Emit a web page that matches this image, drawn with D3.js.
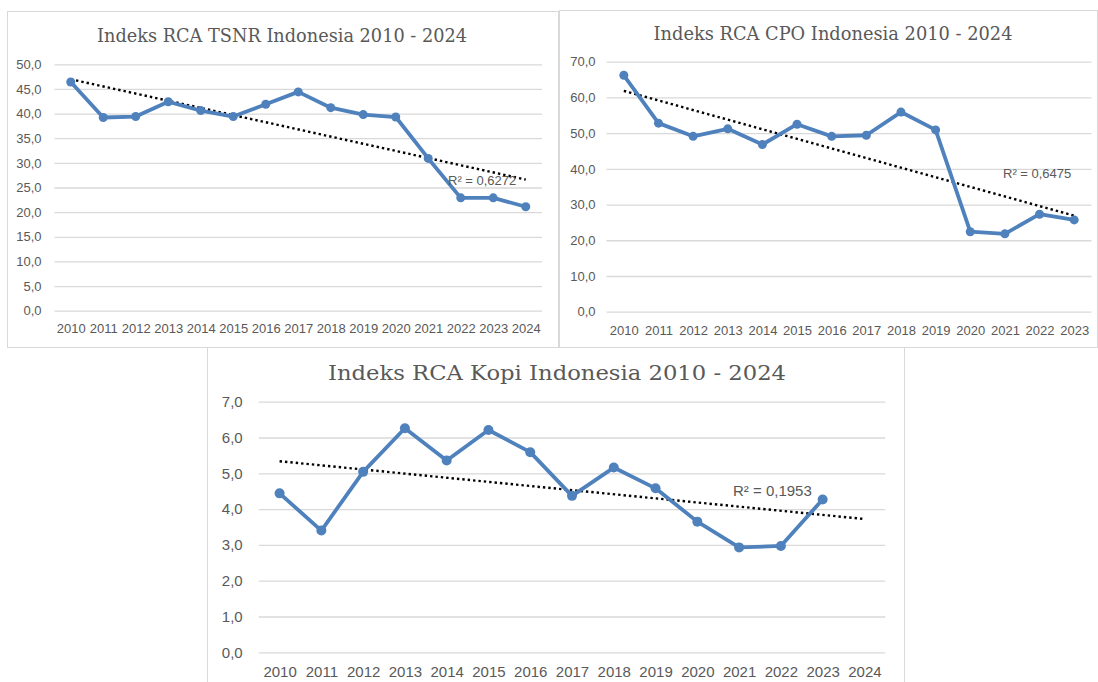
<!DOCTYPE html>
<html>
<head>
<meta charset="utf-8">
<script src="https://cdn.jsdelivr.net/npm/d3@7"></script>
<style>
  body { margin: 0; background: #fff; }
  text { font-family: "Liberation Sans", Arial, sans-serif; fill: #595959; }
  .title { font-family: "DejaVu Serif", serif; }
</style>
</head>
<body>
<div id="chart"></div>
<script>
// data
let years = ['2010', '2011', '2012', '2013', '2014', '2015', '2016', '2017',
  '2018', '2019', '2020', '2021', '2022', '2023', '2024'];
let yearsCpo = years.slice(0, 14);

let tsnrValues = [46.4, 39.2, 39.4, 42.4, 40.6, 39.4, 41.9, 44.4, 41.2, 39.8, 39.3, 30.9, 22.9, 22.9, 21.1];
let cpoValues = [66.2, 52.8, 49.1, 51.2, 46.8, 52.5, 49.1, 49.4, 55.9, 50.9, 22.4, 21.8, 27.3, 25.7];
// no value for 2024
let kopiValues = [4.44, 3.40, 5.04, 6.26, 5.36, 6.21, 5.59, 4.37, 5.16, 4.58, 3.65, 2.93, 2.97, 4.27];

let tsnrTicks = [0, 5, 10, 15, 20, 25, 30, 35, 40, 45, 50];
let cpoTicks = [0, 10, 20, 30, 40, 50, 60, 70];
let kopiTicks = [0, 1, 2, 3, 4, 5, 6, 7];

let tsnrTitle = 'Indeks RCA TSNR Indonesia 2010 - 2024';
let cpoTitle = 'Indeks RCA CPO Indonesia 2010 - 2024';
let kopiTitle = 'Indeks RCA Kopi Indonesia 2010 - 2024';

let tsnrR2 = 'R\u00b2 = 0,6272';
let cpoR2 = 'R\u00b2 = 0,6475';
let kopiR2 = 'R\u00b2 = 0,1953';

let svgWidth = 1098;
let svgHeight = 682;

let svg = d3.select('#chart')
  .append('svg')
  .attr('width', svgWidth)
  .attr('height', svgHeight);

let lineColor = '#4f81bd';
let gridColor = '#d9d9d9';
let fmt = d => d3.format('.1f')(d).replace('.', ',');

// least squares line over category index
function trend(values) {
  let mx = d3.mean(values, (d, i) => i);
  let my = d3.mean(values);
  let sxy = d3.sum(values, (d, i) => (i - mx) * (d - my));
  let sxx = d3.sum(values, (d, i) => (i - mx) * (i - mx));
  let slope = sxy / sxx;
  return i => my + slope * (i - mx);
}

function drawChart(cfg) {
  let g = svg.append('g');

  // chart box
  g.append('rect')
    .attr('x', cfg.box[0])
    .attr('y', cfg.box[1])
    .attr('width', cfg.box[2])
    .attr('height', cfg.box[3])
    .attr('fill', '#fff')
    .attr('stroke', gridColor)
    .attr('stroke-width', 1);

  let x = d3.scalePoint()
    .domain(cfg.categories)
    .range([cfg.left, cfg.right])
    .padding(0.5);

  let y = d3.scaleLinear()
    .domain([0, d3.max(cfg.ticks)])
    .range([cfg.bottom, cfg.top]);

  // y gridlines + labels
  let yAxis = g.append('g')
    .attr('transform', `translate(${cfg.left}, 0)`)
    .call(d3.axisLeft(y).tickValues(cfg.ticks).tickFormat(fmt)
      .tickSize(-(cfg.right - cfg.left)).tickPadding(cfg.yPad));
  yAxis.select('.domain').remove();
  yAxis.selectAll('line').attr('stroke', gridColor).attr('stroke-width', 1.3);
  yAxis.selectAll('text')
    .attr('fill', '#666')
    .style('font-size', cfg.tickSize + 'px');

  // x labels
  let xAxis = g.append('g')
    .attr('transform', `translate(0, ${cfg.bottom})`)
    .call(d3.axisBottom(x).tickSize(0).tickPadding(cfg.xPad));
  xAxis.select('.domain').remove();
  xAxis.selectAll('text')
    .attr('fill', '#666')
    .style('font-size', cfg.tickSize + 'px');

  // title
  g.append('text')
    .classed('title', true)
    .attr('x', cfg.titleX)
    .attr('y', cfg.titleY)
    .attr('text-anchor', 'middle')
    .attr('textLength', cfg.titleLen)
    .attr('lengthAdjust', 'spacingAndGlyphs')
    .style('font-size', cfg.titleSize + 'px')
    .text(cfg.title);

  // trend line
  let f = trend(cfg.values);
  let last = cfg.categories.length - 1;
  g.append('line')
    .attr('x1', x(cfg.categories[0]))
    .attr('y1', y(f(0)))
    .attr('x2', x(cfg.categories[last]))
    .attr('y2', y(f(last)))
    .attr('stroke', '#000')
    .attr('stroke-width', 2.4)
    .attr('stroke-dasharray', '2.4,3');

  // series line
  let pts = cfg.values.map((v, i) => ({ cat: cfg.categories[i], v: v }));
  let line = d3.line()
    .x(d => x(d.cat))
    .y(d => y(d.v));

  g.append('path')
    .datum(pts)
    .attr('d', line)
    .attr('fill', 'none')
    .attr('stroke', lineColor)
    .attr('stroke-width', 3.8)
    .attr('stroke-linejoin', 'round');

  g.selectAll('circle')
    .data(pts)
    .enter()
    .append('circle')
    .attr('cx', d => x(d.cat))
    .attr('cy', d => y(d.v))
    .attr('r', cfg.r)
    .attr('fill', lineColor);

  // R squared label
  g.append('text')
    .attr('x', cfg.r2X)
    .attr('y', cfg.r2Y)
    .attr('fill', '#666')
    .style('font-size', cfg.r2Size + 'px')
    .text(cfg.r2);
}

drawChart({
  box: [7.5, 11.5, 551, 336],
  categories: years, values: tsnrValues, ticks: tsnrTicks,
  left: 54.5, right: 542, top: 64.3, bottom: 310.7,
  yPad: 13, xPad: 13, tickSize: 13,
  title: tsnrTitle, titleX: 282, titleY: 41.5, titleSize: 19, titleLen: 370,
  r: 4.5, r2: tsnrR2, r2X: 448, r2Y: 185, r2Size: 13
});

drawChart({
  box: [559.5, 10.5, 538, 337],
  categories: yearsCpo, values: cpoValues, ticks: cpoTicks,
  left: 606.5, right: 1091.5, top: 61.7, bottom: 311.7,
  yPad: 11, xPad: 14, tickSize: 13,
  title: cpoTitle, titleX: 833, titleY: 39.5, titleSize: 19, titleLen: 359,
  r: 4.5, r2: cpoR2, r2X: 1003, r2Y: 178, r2Size: 13
});

drawChart({
  box: [207.5, 347.5, 697, 340],
  categories: years, values: kopiValues, ticks: kopiTicks,
  left: 258.7, right: 885.3, top: 401.7, bottom: 652.3,
  yPad: 16, xPad: 14, tickSize: 15,
  title: kopiTitle, titleX: 557, titleY: 380, titleSize: 20, titleLen: 458,
  r: 5, r2: kopiR2, r2X: 733, r2Y: 496, r2Size: 15
});
</script>
</body>
</html>
